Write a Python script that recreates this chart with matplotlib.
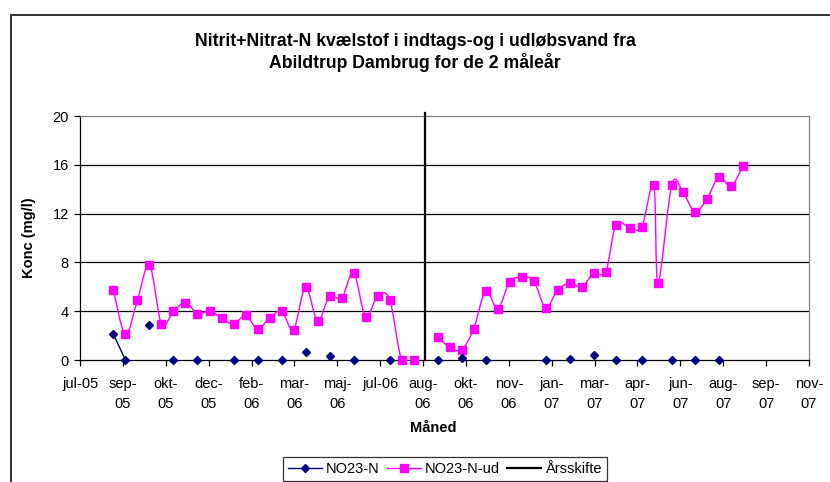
import numpy as np
import matplotlib
matplotlib.use("Agg")
import matplotlib.pyplot as plt
import matplotlib.dates as mdates
from matplotlib.path import Path
from matplotlib.patches import PathPatch, Rectangle
from matplotlib.lines import Line2D
from datetime import date, timedelta

plt.rcParams['font.family'] = ['Liberation Sans', 'DejaVu Sans']

# sampling dates (shared by both series)
dates = [
    "2005-08-25", "2005-09-08", "2005-09-22", "2005-10-06", "2005-10-20", "2005-11-03",
    "2005-11-17", "2005-12-01", "2005-12-15", "2005-12-29", "2006-01-12", "2006-01-26",
    "2006-02-09", "2006-02-23", "2006-03-09", "2006-03-23", "2006-04-06", "2006-04-20",
    "2006-05-04", "2006-05-18", "2006-06-01", "2006-06-15", "2006-06-29", "2006-07-13",
    "2006-07-27", "2006-08-10",
    "2006-09-07", "2006-09-21", "2006-10-05", "2006-10-19", "2006-11-02", "2006-11-16",
    "2006-11-30", "2006-12-14", "2006-12-28", "2007-01-11", "2007-01-25", "2007-02-08",
    "2007-02-22", "2007-03-08", "2007-03-22", "2007-04-03", "2007-04-19", "2007-05-03",
    "2007-05-17", "2007-05-22", "2007-06-07", "2007-06-20", "2007-07-04", "2007-07-18",
    "2007-08-01", "2007-08-15", "2007-08-29",
]

no23_ud = [
    5.7, 2.1, 4.9, 7.8, 2.95, 4.0, 4.7, 3.8, 4.0, 3.45, 2.95, 3.65, 2.55, 3.45, 4.0, 2.5,
    6.0, 3.2, 5.25, 5.05, 7.15, 3.55, 5.25, 4.95, 0.0, 0.0,
    1.9, 1.05, 0.85, 2.55, 5.65, 4.2, 6.4, 6.8, 6.5, 4.3, 5.75, 6.3, 6.0, 7.1, 7.25,
    11.1, 10.85, 10.9, 14.35, 6.3, 14.35, 13.75, 12.15, 13.2, 15.0, 14.25, 15.9,
]

nan = np.nan
no23 = [
    2.1, 0.0, nan, 2.85, nan, 0.0, nan, 0.0, nan, nan, 0.0, nan, 0.0, nan, 0.0, nan,
    0.65, nan, 0.35, nan, 0.0, nan, nan, 0.0, nan, nan,
    0.0, nan, 0.2, nan, 0.0, nan, nan, nan, nan, 0.0, nan, 0.1, nan, 0.45, nan,
    0.0, nan, 0.0, nan, nan, 0.0, nan, 0.0, nan, 0.0, nan, nan,
]

aarsskifte_date = "2006-08-23"
aarsskifte_y = [0, 20.25]

axis_start = date(2005, 7, 17)
tick_step_days = 50
tick_labels = ["jul-05", "sep-\n05", "okt-\n05", "dec-\n05", "feb-\n06", "mar-\n06",
               "maj-\n06", "jul-06", "aug-\n06", "okt-\n06", "nov-\n06", "jan-\n07",
               "mar-\n07", "apr-\n07", "jun-\n07", "aug-\n07", "sep-\n07", "nov-\n07"]

PINK = "#FF00FF"
NAVY = "#000080"


def to_num(s):
    return mdates.date2num(np.datetime64(s))


def smooth_path(x, y, breaks=()):
    # Excel-like smoothed line: cubic bezier through each unbroken run of points
    verts, codes = [], []
    x = np.asarray(x, float)
    y = np.asarray(y, float)
    runs, cur = [], []
    for i in range(len(x)):
        if cur and any(x[cur[-1]] < b < x[i] for b in breaks):
            runs.append(cur)
            cur = []
        if not np.isnan(y[i]):
            cur.append(i)
        elif cur:
            runs.append(cur)
            cur = []
    if cur:
        runs.append(cur)
    for r in runs:
        if len(r) < 2:
            continue
        P = np.column_stack([x[r], y[r]])
        n = len(P)
        verts.append(P[0])
        codes.append(Path.MOVETO)
        for i in range(n - 1):
            p0 = P[max(i - 1, 0)]
            p1 = P[i]
            p2 = P[i + 1]
            p3 = P[min(i + 2, n - 1)]
            c1 = p1 + (p2 - p0) / 6.0
            c2 = p2 - (p3 - p1) / 6.0
            verts += [c1, c2, p2]
            codes += [Path.CURVE4] * 3
    if not verts:
        return None
    return Path(verts, codes)


xs = np.array([to_num(d) for d in dates])
xa = to_num(aarsskifte_date)

fig = plt.figure(figsize=(8.3, 4.82), dpi=100)
ax = fig.add_axes([80 / 830, 1 - 360 / 482, 729 / 830, 244 / 482])

# outer chart frame
fig.patches.append(Rectangle((11 / 830, -0.2), 1.2, 1.2 - 15 / 482,
                             transform=fig.transFigure, fill=False,
                             edgecolor="#333333", lw=1.4))

x0 = mdates.date2num(axis_start)
x1 = mdates.date2num(axis_start + timedelta(days=tick_step_days * (len(tick_labels) - 1)))
ax.set_xlim(x0, x1)
ax.set_ylim(0, 20)

for yv in [4, 8, 12, 16]:
    ax.axhline(yv, color="black", lw=0.9, zorder=0.5)

for path, col in [(smooth_path(xs, no23_ud, [xa]), PINK), (smooth_path(xs, no23, [xa]), NAVY)]:
    if path is not None:
        ax.add_patch(PathPatch(path, fill=False, edgecolor=col, lw=1.0, zorder=2))

ax.plot(xs, no23_ud, ls="none", marker="s", ms=5.4, color=PINK, zorder=3, clip_on=False)
ax.plot(xs, no23, ls="none", marker="D", ms=4.3, color=NAVY, zorder=4, clip_on=False)

ax.plot([xa, xa], aarsskifte_y, color="black", lw=1.6, zorder=3, clip_on=False)

ax.set_xticks([x0 + tick_step_days * i for i in range(len(tick_labels))])
ax.set_xticklabels(tick_labels, fontsize=10.5, linespacing=1.55)
ax.set_yticks([0, 4, 8, 12, 16, 20])
ax.set_yticklabels(["0", "4", "8", "12", "16", "20"], fontsize=10.5)
ax.tick_params(axis="x", direction="out", length=4, width=0.9, pad=8)
ax.tick_params(axis="y", direction="out", length=4, width=0.9, pad=4)

for side in ["top", "right"]:
    ax.spines[side].set_color("#808080")
    ax.spines[side].set_linewidth(0.9)
for side in ["left", "bottom"]:
    ax.spines[side].set_color("black")
    ax.spines[side].set_linewidth(0.9)

ax.set_ylabel("Konc (mg/l)", fontsize=10.5, fontweight="bold")
ax.yaxis.set_label_coords(-0.06, 0.5)
fig.text(433 / 830, 1 - 428 / 482, "Måned", fontsize=10.5, fontweight="bold",
         ha="center", va="center")

fig.text(415 / 830, 1 - 33 / 482,
         "Nitrit+Nitrat-N kvælstof i indtags-og i udløbsvand fra\nAbildtrup Dambrug for de 2 måleår",
         fontsize=12.7, fontweight="bold", ha="center", va="top", linespacing=1.2)

handles = [
    Line2D([], [], color=NAVY, lw=1.0, marker="D", ms=4.3),
    Line2D([], [], color=PINK, lw=1.0, marker="s", ms=5.4),
    Line2D([], [], color="black", lw=1.6),
]
leg = fig.legend(handles, ["NO23-N", "NO23-N-ud", "Årsskifte"], loc="upper left",
                 bbox_to_anchor=(283 / 830, 1 - 457 / 482), ncol=3, fontsize=10.5,
                 frameon=True, fancybox=False, edgecolor="black", handlelength=2.3,
                 handletextpad=0.3, columnspacing=0.5, borderpad=0.35, borderaxespad=0)
leg.get_frame().set_linewidth(0.9)

fig.savefig("out.png", dpi=100)
